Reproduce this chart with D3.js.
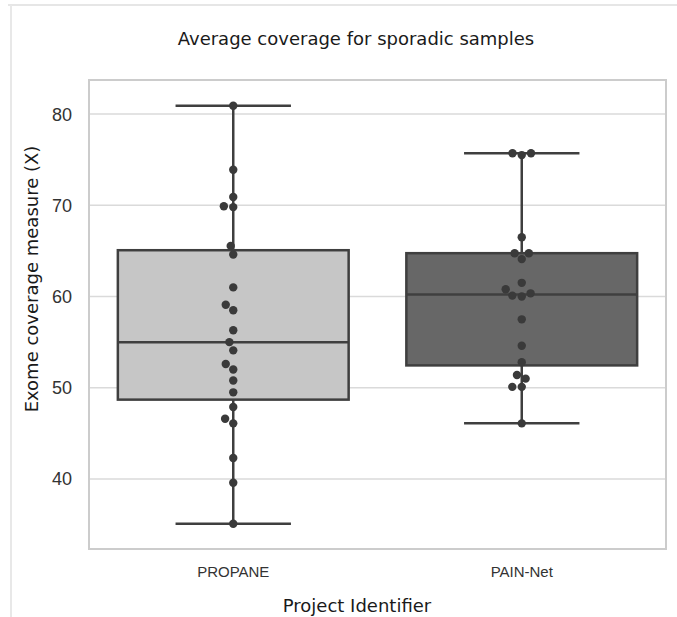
<!DOCTYPE html>
<html>
<head>
<meta charset="utf-8">
<script src="https://cdnjs.cloudflare.com/ajax/libs/d3/7.8.5/d3.min.js"></script>
<style>
body { margin: 0; background: #ffffff; }
</style>
</head>
<body>
<script>
// data
var categories = ["PROPANE", "PAIN-Net"];
var propaneValues = [35.1, 39.6, 42.3, 46.1, 46.6, 47.9, 49.5, 50.8, 52.0, 52.6, 54.1, 55.0,
	56.3, 58.5, 59.1, 61.0, 64.6, 65.55, 69.8, 69.9, 70.9, 73.9, 80.9];
var painNetValues = [46.1, 50.1, 50.1, 51.0, 51.4, 52.8, 54.6, 57.5, 60.0, 60.1, 60.35, 60.8,
	61.5, 64.1, 64.75, 64.75, 66.5, 75.5, 75.7, 75.7];
var yTicks = [40, 50, 60, 70, 80];
var boxFills = ["#c6c6c6", "#676767"];

var width = 677, height = 617;
var plotLeft = 89, plotRight = 666, plotTop = 80, plotBottom = 549;

// seaborn style swarm: place each point as near the centre as it can go
function swarm(values, y, cx, dr) {
	var pts = values.slice().sort(function(a, b) { return a - b; }).map(function(v) {
		return { v: v, y: y(v), x: cx };
	});
	var placed = [];
	pts.forEach(function(p) {
		var near = [];
		for (var j = placed.length - 1; j >= 0; j--) {
			if (Math.abs(placed[j].y - p.y) < dr) near.push(placed[j]);
			else break;
		}
		var cands = [cx];
		var leftFirst = true;
		near.forEach(function(q) {
			var dy = q.y - p.y;
			var dx = Math.sqrt(Math.max(dr * dr - dy * dy, 0)) * 1.05;
			if (leftFirst) cands.push(q.x - dx, q.x + dx);
			else cands.push(q.x + dx, q.x - dx);
			leftFirst = !leftFirst;
		});
		cands.sort(function(a, b) { return Math.abs(a - cx) - Math.abs(b - cx); });
		for (var k = 0; k < cands.length; k++) {
			var ok = near.every(function(q) {
				var dx = q.x - cands[k], dy = q.y - p.y;
				return dx * dx + dy * dy >= dr * dr - 1e-6;
			});
			if (ok) { p.x = cands[k]; break; }
		}
		placed.push(p);
	});
	return placed;
}

function boxStats(values) {
	var s = values.slice().sort(d3.ascending);
	var q1 = d3.quantile(s, 0.25), med = d3.quantile(s, 0.5), q3 = d3.quantile(s, 0.75);
	var iqr = q3 - q1;
	var lo = d3.min(s.filter(function(v) { return v >= q1 - 1.5 * iqr; }));
	var hi = d3.max(s.filter(function(v) { return v <= q3 + 1.5 * iqr; }));
	return { q1: q1, med: med, q3: q3, lo: lo, hi: hi };
}

function drawChart() {
	var svg = d3.select("body").append("svg").attr("width", width).attr("height", height);

	// faint outer frame of the figure
	svg.append("line").attr("x1", 8).attr("y1", 5).attr("x2", width).attr("y2", 5)
		.attr("stroke", "#e6e6e6").attr("stroke-width", 2);
	svg.append("line").attr("x1", 11).attr("y1", 5).attr("x2", 11).attr("y2", height)
		.attr("stroke", "#e8e8e8").attr("stroke-width", 2);

	var x = d3.scaleBand().domain(categories).range([plotLeft, plotRight]);
	var y = d3.scaleLinear().domain([32.33, 83.73]).range([plotBottom, plotTop]);

	// grid
	svg.append("g").selectAll("line").data(yTicks).enter().append("line")
		.attr("x1", plotLeft).attr("x2", plotRight)
		.attr("y1", function(d) { return y(d); }).attr("y2", function(d) { return y(d); })
		.attr("stroke", "#dadada").attr("stroke-width", 1.5);

	// frame
	svg.append("rect").attr("x", plotLeft).attr("y", plotTop)
		.attr("width", plotRight - plotLeft).attr("height", plotBottom - plotTop)
		.attr("fill", "none").attr("stroke", "#cccccc").attr("stroke-width", 2);

	// y tick labels
	svg.append("g").selectAll("text").data(yTicks).enter().append("text")
		.attr("x", 72).attr("y", function(d) { return y(d); }).attr("dy", "0.36em")
		.attr("text-anchor", "end")
		.style("font-family", "'Liberation Sans', Arial, sans-serif").style("font-size", "18px")
		.attr("fill", "#333333").text(function(d) { return d; });

	var series = [propaneValues, painNetValues];
	var edge = "#3f3f3f";
	var bw = x.bandwidth() * 0.8;

	series.forEach(function(vals, i) {
		var st = boxStats(vals);
		var cx = x(categories[i]) + x.bandwidth() / 2;
		var g = svg.append("g");

		g.append("line").attr("x1", cx).attr("x2", cx).attr("y1", y(st.hi)).attr("y2", y(st.q3))
			.attr("stroke", edge).attr("stroke-width", 2.5);
		g.append("line").attr("x1", cx).attr("x2", cx).attr("y1", y(st.q1)).attr("y2", y(st.lo))
			.attr("stroke", edge).attr("stroke-width", 2.5);
		g.append("line").attr("x1", cx - bw / 4).attr("x2", cx + bw / 4).attr("y1", y(st.hi)).attr("y2", y(st.hi))
			.attr("stroke", edge).attr("stroke-width", 2.5);
		g.append("line").attr("x1", cx - bw / 4).attr("x2", cx + bw / 4).attr("y1", y(st.lo)).attr("y2", y(st.lo))
			.attr("stroke", edge).attr("stroke-width", 2.5);

		g.append("rect").attr("x", cx - bw / 2).attr("y", y(st.q3))
			.attr("width", bw).attr("height", y(st.q1) - y(st.q3))
			.attr("fill", boxFills[i]).attr("stroke", edge).attr("stroke-width", 2.5);
		g.append("line").attr("x1", cx - bw / 2).attr("x2", cx + bw / 2).attr("y1", y(st.med)).attr("y2", y(st.med))
			.attr("stroke", edge).attr("stroke-width", 2.5);

		var pts = swarm(vals, y, cx, 9);
		g.selectAll("circle").data(pts).enter().append("circle")
			.attr("cx", function(d) { return d.x; }).attr("cy", function(d) { return d.y; })
			.attr("r", 4.2).attr("fill", "#3a3a3a");
	});

	// x tick labels
	svg.append("g").selectAll("text").data(categories).enter().append("text")
		.attr("x", function(d) { return x(d) + x.bandwidth() / 2; }).attr("y", 577)
		.attr("text-anchor", "middle")
		.style("font-family", "'Liberation Sans', Arial, sans-serif").style("font-size", "15px")
		.attr("fill", "#333333").text(function(d) { return d; });

	svg.append("text").attr("x", 356).attr("y", 45).attr("text-anchor", "middle")
		.style("font-family", "'DejaVu Sans', sans-serif").style("font-size", "18px")
		.attr("fill", "#1a1a1a").text("Average coverage for sporadic samples");

	svg.append("text").attr("x", 357).attr("y", 612).attr("text-anchor", "middle")
		.style("font-family", "'DejaVu Sans', sans-serif").style("font-size", "18px")
		.attr("fill", "#1a1a1a").text("Project Identifier");

	svg.append("text").attr("transform", "translate(37.5,279) rotate(-90)").attr("text-anchor", "middle")
		.style("font-family", "'DejaVu Sans', sans-serif").style("font-size", "18px")
		.attr("fill", "#1a1a1a").text("Exome coverage measure (X)");
}

drawChart();
</script>
</body>
</html>
